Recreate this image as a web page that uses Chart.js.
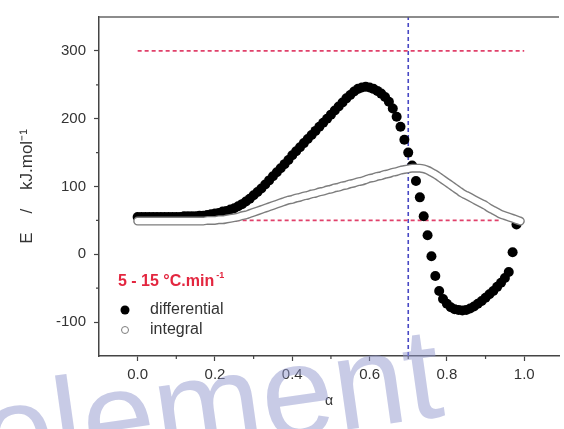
<!DOCTYPE html>
<html lang="en">
<head>
  <meta charset="UTF-8">
  <title>Activation energy vs conversion</title>
  <script src="https://cdn.jsdelivr.net/npm/chart.js@4.4.1/dist/chart.umd.min.js"></script>
  <style>
    html, body { margin: 0; padding: 0; background: #fff; overflow: hidden; }
    .chart-container { position: relative; width: 564px; height: 429px; }
  </style>
</head>
<body>
  <div class="chart-container">
    <canvas id="eaChart"></canvas>
  </div>

  <script>
    // Conversion (alpha) and activation energy, kJ/mol
    const alphaDiff = [
      0.00, 0.01, 0.02, 0.03, 0.04, 0.05, 0.06, 0.07, 0.08, 0.09,
      0.10, 0.11, 0.12, 0.13, 0.14, 0.15, 0.16, 0.17, 0.18, 0.19,
      0.20, 0.21, 0.22, 0.23, 0.24, 0.25, 0.26, 0.27, 0.28, 0.29,
      0.30, 0.31, 0.32, 0.33, 0.34, 0.35, 0.36, 0.37, 0.38, 0.39,
      0.40, 0.41, 0.42, 0.43, 0.44, 0.45, 0.46, 0.47, 0.48, 0.49,
      0.50, 0.51, 0.52, 0.53, 0.54, 0.55, 0.56, 0.57, 0.58, 0.59,
      0.60, 0.61, 0.62, 0.63, 0.64, 0.65, 0.66, 0.67, 0.68, 0.69,
      0.70, 0.71, 0.72, 0.73, 0.74, 0.75, 0.76, 0.77, 0.78, 0.79,
      0.80, 0.81, 0.82, 0.83, 0.84, 0.85, 0.86, 0.87, 0.88, 0.89,
      0.90, 0.91, 0.92, 0.93, 0.94, 0.95, 0.96, 0.97, 0.98
    ];
    const eDifferential = [
      55, 55, 55, 55, 55, 55, 55, 55, 55, 55,
      55, 55, 56, 56, 56, 56, 57, 57, 58, 59,
      60, 61, 63, 64, 66, 68, 71, 74, 78, 82,
      87, 92, 97, 103, 109, 115, 121, 127, 133, 139,
      146, 152, 158, 164, 170, 176, 182, 188, 194, 200,
      206, 212, 218, 224, 230, 235, 240, 244, 246, 247,
      246, 244, 241, 237, 232, 225, 215, 203, 188, 169,
      150, 131, 108, 84, 56, 28, -3, -32, -54, -66,
      -73, -78, -81, -82, -83, -82, -80, -77, -73, -69,
      -64, -59, -54, -48, -42, -35, -26, 3, 44
    ];

    const alphaInt = [
      0.00, 0.01, 0.02, 0.03, 0.04, 0.05, 0.06, 0.07, 0.08, 0.09,
      0.10, 0.11, 0.12, 0.13, 0.14, 0.15, 0.16, 0.17, 0.18, 0.19,
      0.20, 0.21, 0.22, 0.23, 0.24, 0.25, 0.26, 0.27, 0.28, 0.29,
      0.30, 0.31, 0.32, 0.33, 0.34, 0.35, 0.36, 0.37, 0.38, 0.39,
      0.40, 0.41, 0.42, 0.43, 0.44, 0.45, 0.46, 0.47, 0.48, 0.49,
      0.50, 0.51, 0.52, 0.53, 0.54, 0.55, 0.56, 0.57, 0.58, 0.59,
      0.60, 0.61, 0.62, 0.63, 0.64, 0.65, 0.66, 0.67, 0.68, 0.69,
      0.70, 0.71, 0.72, 0.73, 0.74, 0.75, 0.76, 0.77, 0.78, 0.79,
      0.80, 0.81, 0.82, 0.83, 0.84, 0.85, 0.86, 0.87, 0.88, 0.89,
      0.90, 0.91, 0.92, 0.93, 0.94, 0.95, 0.96, 0.97, 0.98, 0.99
    ];
    const eIntegral = [
      49, 49, 49, 49, 49, 49, 49, 49, 49, 49,
      49, 49, 49, 49, 49, 49, 49, 49, 50, 50,
      50, 51, 51, 52, 53, 54, 55, 57, 58, 60,
      62, 64, 66, 68, 70, 72, 74, 76, 78, 80,
      81, 83, 84, 86, 87, 89, 90, 92, 93, 95,
      96, 98, 99, 101, 102, 104, 105, 107, 108, 110,
      112, 113, 115, 116, 118, 119, 121, 122, 124, 125,
      126, 127, 127, 127, 126, 124, 121, 118, 114, 110,
      106, 102, 98, 94, 90, 87, 84, 81, 78, 75,
      72, 68, 65, 62, 59, 57, 55, 53, 51, 49
    ];

    // guide lines
    const upperLimitX = [0.0, 1.0];
    const upperLimitE = [300, 300];
    const lowerLimitX = [0.0, 0.94];
    const lowerLimitE = [50, 50];
    const cutoffX = [0.7, 0.7];
    const cutoffE = [-150, 350];

    // axes
    const xTicks = [0.0, 0.2, 0.4, 0.6, 0.8, 1.0];
    const xMinorTicks = [0.1, 0.3, 0.5, 0.7, 0.9];
    const yTicks = [-100, 0, 100, 200, 300];
    const yMinorTicks = [-50, 50, 150, 250];

    const seriesNames = ['differential', 'integral'];
    const rateText = '5 - 15 °C.min';
    const rateExp = '-1';
    const watermarkText = 'element';

    const pts = (xs, ys) => xs.map((x, i) => ({ x: x, y: ys[i] }));

    const FONT = "'Liberation Sans', Arial, sans-serif";
    const TEXT = '#333';
    const AXIS = '#444';
    const TUBE = '#7d7d7d';

    // frame top line, minor ticks, in-plot legend and the watermark
    const decorations = {
      id: 'decorations',
      afterDraw(chart) {
        const ctx = chart.ctx;
        const area = chart.chartArea;
        const xs = chart.scales.x;
        const ys = chart.scales.y;
        ctx.save();

        ctx.strokeStyle = '#666';
        ctx.lineWidth = 1.5;
        ctx.beginPath();
        ctx.moveTo(area.left, area.top);
        ctx.lineTo(area.right, area.top);
        ctx.stroke();

        ctx.strokeStyle = AXIS;
        ctx.lineWidth = 1.2;
        ctx.beginPath();
        xMinorTicks.forEach(v => {
          const px = xs.getPixelForValue(v);
          ctx.moveTo(px, area.bottom);
          ctx.lineTo(px, area.bottom + 3);
        });
        yMinorTicks.forEach(v => {
          const py = ys.getPixelForValue(v);
          ctx.moveTo(area.left, py);
          ctx.lineTo(area.left - 3, py);
        });
        ctx.stroke();

        // legend
        ctx.textBaseline = 'middle';
        ctx.textAlign = 'left';
        ctx.fillStyle = '#e3263f';
        ctx.font = 'bold 16px ' + FONT;
        ctx.fillText(rateText, 118, 282);
        const w = ctx.measureText(rateText).width;
        ctx.font = 'bold 9px ' + FONT;
        ctx.fillText(rateExp, 118 + w + 2, 276);

        ctx.beginPath();
        ctx.arc(125, 310, 4.5, 0, Math.PI * 2);
        ctx.fillStyle = '#000';
        ctx.fill();
        ctx.beginPath();
        ctx.arc(125, 330, 3.5, 0, Math.PI * 2);
        ctx.fillStyle = '#fff';
        ctx.fill();
        ctx.lineWidth = 1;
        ctx.strokeStyle = TUBE;
        ctx.stroke();

        ctx.fillStyle = TEXT;
        ctx.font = '16px ' + FONT;
        ctx.fillText(seriesNames[0], 150, 310);
        ctx.fillText(seriesNames[1], 150, 330);

        // watermark across the bottom
        ctx.translate(-12, 480);
        ctx.rotate(-8 * Math.PI / 180);
        ctx.font = '130px ' + FONT;
        ctx.textBaseline = 'alphabetic';
        ctx.fillStyle = 'rgba(145, 151, 205, 0.5)';
        ctx.fillText(watermarkText, 0, 0);

        ctx.restore();
      }
    };

    const ctx = document.getElementById('eaChart').getContext('2d');
    const eaChart = new Chart(ctx, {
      type: 'scatter',
      data: {
        datasets: [
          {
            // integral: hollow circles merge into a grey tube
            label: seriesNames[1],
            data: pts(alphaInt, eIntegral),
            showLine: true,
            borderColor: '#fff',
            borderWidth: 6.2,
            borderCapStyle: 'round',
            borderJoinStyle: 'round',
            cubicInterpolationMode: 'monotone',
            pointRadius: 0,
            order: 0
          },
          {
            label: seriesNames[1] + ' edge',
            data: pts(alphaInt, eIntegral),
            showLine: true,
            borderColor: TUBE,
            borderWidth: 9,
            borderCapStyle: 'round',
            borderJoinStyle: 'round',
            cubicInterpolationMode: 'monotone',
            pointRadius: 0,
            order: 1
          },
          {
            label: seriesNames[0],
            data: pts(alphaDiff, eDifferential),
            pointRadius: 5,
            pointBackgroundColor: '#000',
            pointBorderWidth: 0,
            showLine: false,
            order: 2
          },
          {
            label: 'upper',
            data: pts(upperLimitX, upperLimitE),
            showLine: true,
            pointRadius: 0,
            borderColor: '#e0406a',
            borderWidth: 1.6,
            borderDash: [4, 3],
            order: 3
          },
          {
            label: 'lower',
            data: pts(lowerLimitX, lowerLimitE),
            showLine: true,
            pointRadius: 0,
            borderColor: '#e0406a',
            borderWidth: 1.6,
            borderDash: [4, 3],
            order: 4
          },
          {
            label: 'cutoff',
            data: pts(cutoffX, cutoffE),
            showLine: true,
            pointRadius: 0,
            borderColor: '#4848c4',
            borderWidth: 1.6,
            borderDash: [4, 3],
            order: 5
          }
        ]
      },
      options: {
        responsive: true,
        maintainAspectRatio: false,
        animation: false,
        layout: { padding: { top: 12, right: 0, bottom: 0, left: 0 } },
        scales: {
          x: {
            type: 'linear',
            min: -0.1,
            max: 1.09,
            afterBuildTicks: s => { s.ticks = xTicks.map(v => ({ value: v })); },
            afterFit: s => { s.height = 73; },
            ticks: {
              color: TEXT,
              font: { family: FONT, size: 15 },
              padding: 5,
              callback: v => v.toFixed(1)
            },
            grid: {
              drawOnChartArea: false,
              drawTicks: true,
              tickLength: 5,
              tickWidth: 1.2,
              tickColor: AXIS
            },
            border: { display: true, color: AXIS, width: 1.5 },
            title: {
              display: true,
              text: 'α',
              color: TEXT,
              font: { family: FONT, size: 14 },
              padding: { top: 0, bottom: 19.6 }
            }
          },
          y: {
            type: 'linear',
            min: -150,
            max: 350,
            afterBuildTicks: s => { s.ticks = yTicks.map(v => ({ value: v })); },
            afterFit: s => { s.width = 99; },
            ticks: {
              color: TEXT,
              font: { family: FONT, size: 15 },
              padding: 8
            },
            grid: {
              drawOnChartArea: false,
              drawTicks: true,
              tickLength: 5,
              tickWidth: 1.2,
              tickColor: AXIS
            },
            border: { display: true, color: AXIS, width: 1.5 },
            title: {
              display: true,
              text: 'E    /    kJ.mol⁻¹',
              color: TEXT,
              font: { family: FONT, size: 17 },
              padding: { top: 17, bottom: 0 }
            }
          }
        },
        plugins: {
          legend: { display: false },
          tooltip: { enabled: false }
        }
      },
      plugins: [decorations]
    });
  </script>
</body>
</html>
